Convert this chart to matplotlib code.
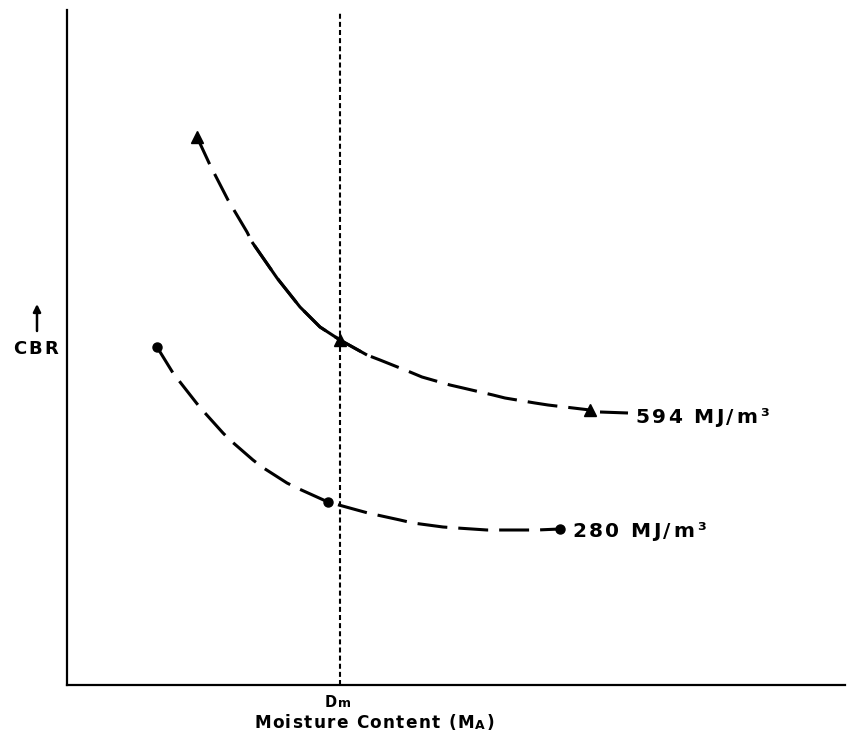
import matplotlib
matplotlib.use('Agg')
import matplotlib.pyplot as plt
from matplotlib.transforms import IdentityTransform

plt.rcParams['font.family'] = ['DejaVu Sans']

# curve for 594 MJ/m3 (schematic units)
hi_x = [130, 143, 161, 180, 185, 210, 233, 253, 273, 300, 313, 343, 355, 383, 396, 426, 438, 468, 481, 523]
hi_y = [548, 520, 485, 453, 443, 407, 378, 358, 345, 330, 325, 313, 308, 300, 297, 290, 287, 282, 280, 275]
hi_mark = [0, 8, 19]
hi_solid = (4, 10)          # part of the curve drawn as a full line
hi_tail_x = [533, 561]
hi_tail_y = [273, 272]

# curve for 280 MJ/m3
lo_x = [90, 106, 113, 131, 138, 156, 163, 186, 195, 220, 230, 261,
        290, 301, 333, 346, 376, 390, 420, 430, 456, 470, 493]
lo_y = [338, 312, 303, 280, 272, 252, 245, 225, 218, 202, 197, 183,
        175, 172, 165, 162, 158, 157, 155, 155, 155, 155, 156]
lo_mark = [0, 11, 22]

dm_x = 273  # Dm position on the moisture axis

fig = plt.figure(figsize=(8.5, 7.45), dpi=100)
ax = fig.add_axes([67 / 850, 60 / 745, 778 / 850, 675 / 745])
ax.set_xlim(0, 778)
ax.set_ylim(0, 675)

lw = 2.2
ax.plot(hi_x, hi_y, color='black', lw=lw, dashes=(9.8, 3.6),
        marker='^', markersize=9, markevery=hi_mark)
a, b = hi_solid
ax.plot(hi_x[a:b], hi_y[a:b], color='black', lw=lw, solid_capstyle='butt')
ax.plot(hi_tail_x, hi_tail_y, color='black', lw=lw, solid_capstyle='butt')
ax.plot(lo_x, lo_y, color='black', lw=lw, dashes=(9.8, 3.6),
        marker='o', markersize=6.5, markevery=lo_mark)

ax.axvline(dm_x, color='black', lw=1.5, dashes=(2.4, 1.5), ymax=0.997)

for s in ['top', 'right']:
    ax.spines[s].set_visible(False)
for s in ['left', 'bottom']:
    ax.spines[s].set_linewidth(1.6)
ax.set_xticks([])
ax.set_yticks([])

renderer = fig.canvas.get_renderer()


def spaced_text(x0, base, pieces, width):
    # place text char by char (figure pixels, baseline) spread over a given width
    chars = []
    for s, size, dy in pieces:
        for ch in s:
            t = fig.text(0, 0, ch, fontsize=size, fontweight='bold', ha='left',
                         va='baseline', transform=IdentityTransform())
            if ch == ' ':
                w = 0.3 * size * 100 / 72
            else:
                w = t.get_window_extent(renderer).width
            chars.append((t, w, dy))
    natural = sum(w for _, w, _ in chars)
    track = (width - natural) / max(len(chars) - 1, 1)
    x = x0
    for t, w, dy in chars:
        t.set_position((x, base + dy))
        x += w + track


H = 745
spaced_text(635, H - 423, [('594 MJ/m³', 14.5, 0)], 134)
spaced_text(572, H - 537, [('280 MJ/m³', 14.5, 0)], 134)
spaced_text(254, H - 728, [('Moisture Content (M', 12.2, 0), ('A', 9, -1), (')', 12.2, 0)], 240)
spaced_text(325, H - 707, [('D', 10.5, 0), ('m', 9, 0)], 26)
spaced_text(13, H - 354, [('CBR', 13, 0)], 45)

ax.annotate('', xy=(37, H - 304), xytext=(37, H - 331),
            xycoords='figure pixels', textcoords='figure pixels',
            arrowprops=dict(arrowstyle='-|>', color='black', lw=1.8,
                            mutation_scale=11, shrinkA=0, shrinkB=0))

fig.savefig('out.png', dpi=100, facecolor='white')
